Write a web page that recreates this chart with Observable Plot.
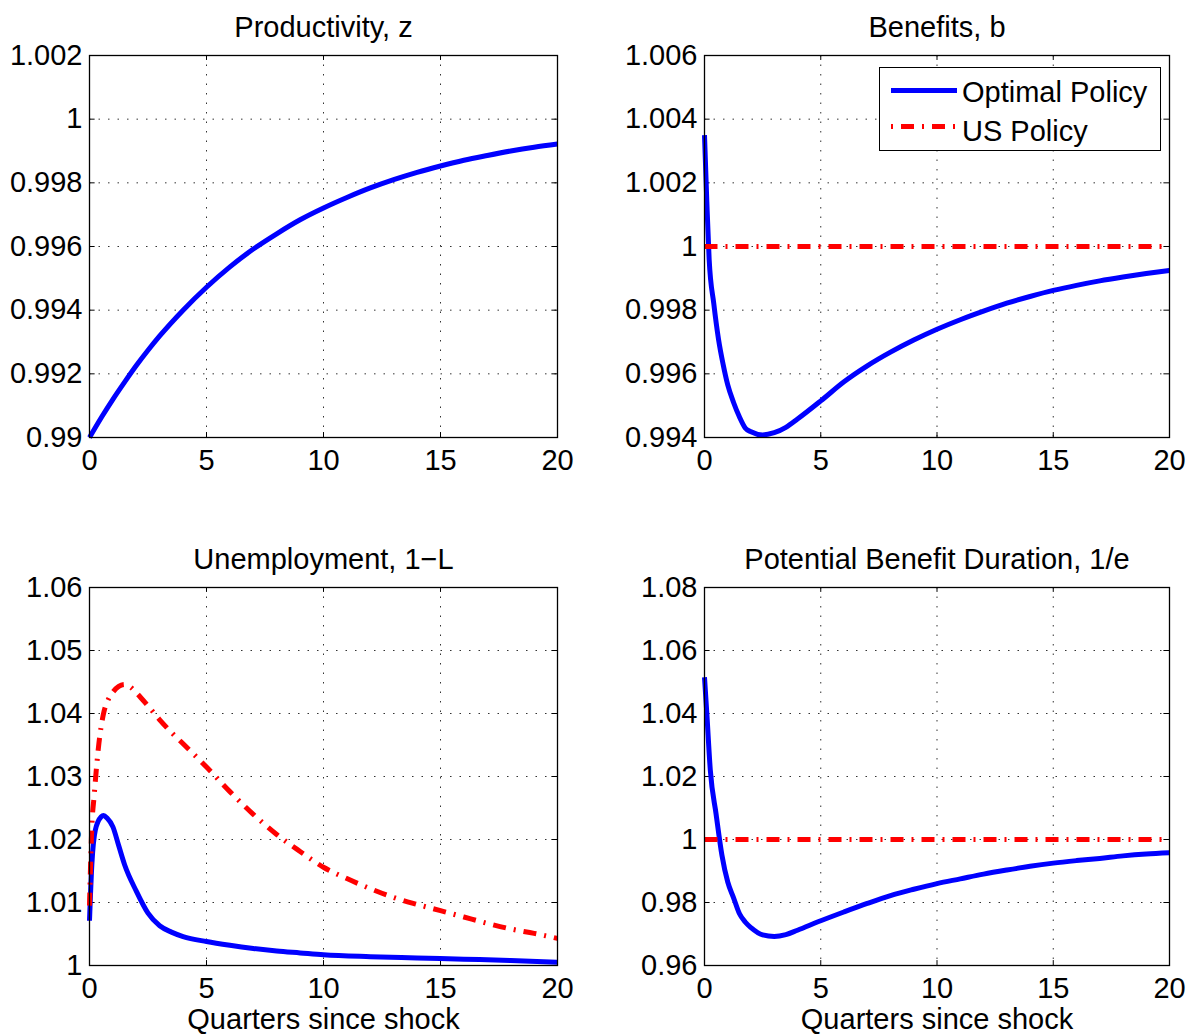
<!DOCTYPE html>
<html>
<head>
<meta charset="utf-8">
<script src="https://cdn.jsdelivr.net/npm/d3@7"></script>
<script src="https://cdn.jsdelivr.net/npm/@observablehq/plot@0.6"></script>
<style>
  html, body { margin: 0; padding: 0; background: #fff; }
  #root { position: relative; width: 1192px; height: 1035px; overflow: hidden; background: #fff; }
  .panel { position: absolute; }
  #legend { position: absolute; box-sizing: border-box; background: #fff; border: 1.5px solid #000; }
</style>
</head>
<body>
<div id="root"></div>
<script>
// ---------------- data ----------------
const xTicks = [0, 5, 10, 15, 20];

// Productivity, z (optimal policy)
const prodX = [0, 0.5, 1, 1.5, 2, 2.5, 3, 4, 5, 6, 7, 8, 9, 10, 11, 12, 13, 14, 15, 16, 17, 18, 19, 20];
const prodZ = [0.9900, 0.99062, 0.9912, 0.99174, 0.99226, 0.99274, 0.99319, 0.9940, 0.99472, 0.99536, 0.99592, 0.99640,
               0.99684, 0.99721, 0.99754, 0.99784, 0.99810, 0.99833, 0.99853, 0.99871, 0.99886, 0.99900, 0.99912, 0.99922];
const prodTicks = [0.99, 0.992, 0.994, 0.996, 0.998, 1, 1.002];

// Benefits, b
const benX = [0, 0.1, 0.2, 0.4, 0.6, 0.8, 1, 1.25, 1.5, 1.75, 2, 2.5, 3, 3.5, 4, 5, 6, 7, 8, 9, 10, 11, 12, 13, 14, 15, 16, 17, 18, 19, 20];
const benOpt = [1.0035, 1.0014, 0.9996, 0.9982, 0.9971, 0.9963, 0.99565, 0.9951, 0.99465, 0.9943, 0.99418, 0.99408, 0.99415,
                0.99432, 0.99458, 0.99515, 0.99575, 0.99625, 0.99668, 0.99706, 0.9974, 0.9977, 0.99797, 0.99822, 0.99843,
                0.99862, 0.99878, 0.99892, 0.99904, 0.99915, 0.99925];
const benUSX = [0, 20];
const benUS = [1, 1];
const benTicks = [0.994, 0.996, 0.998, 1, 1.002, 1.004, 1.006];

// Unemployment, 1-L
const unempX = [0, 0.1, 0.25, 0.5, 0.6, 0.75, 1, 1.25, 1.5, 2, 2.5, 3, 3.5, 4, 5, 6, 7, 8, 9, 10, 12, 14, 16, 18, 20];
const unempOpt = [1.0071, 1.0160, 1.0215, 1.0236, 1.0238, 1.0234, 1.0220, 1.0190, 1.0160, 1.0118, 1.0083, 1.0063,
                  1.0053, 1.0046, 1.0038, 1.0032, 1.0027, 1.0023, 1.0020, 1.0017, 1.0014, 1.0012, 1.0010, 1.0008, 1.0005];
const unempUSX = [0, 0.1, 0.2, 0.4, 0.6, 0.8, 1, 1.25, 1.5, 1.75, 2, 2.5, 3, 3.5, 4, 5, 6, 7, 8, 9, 10, 11, 12, 13, 14, 15, 16, 17, 18, 19, 20];
const unempUS = [1.0095, 1.0220, 1.0270, 1.0352, 1.0400, 1.0422, 1.0434, 1.0443, 1.0446, 1.0442, 1.0433, 1.0412,
                 1.0390, 1.0370, 1.0352, 1.0315, 1.0276, 1.0240, 1.0208, 1.0181, 1.0156, 1.0138, 1.0122, 1.0108,
                 1.0097, 1.0087, 1.0077, 1.0067, 1.0058, 1.0051, 1.0043];
const unempTicks = [1, 1.01, 1.02, 1.03, 1.04, 1.05, 1.06];

// Potential Benefit Duration, 1/e
const pbdX = [0, 0.1, 0.25, 0.5, 0.75, 1, 1.25, 1.5, 1.75, 2, 2.5, 3, 3.5, 4, 5, 6, 7, 8, 9, 10, 11, 12, 13, 14, 15, 16, 17, 18, 19, 20];
const pbdOpt = [1.0515, 1.040, 1.022, 1.008, 0.995, 0.9865, 0.9815, 0.9765, 0.9738, 0.9720, 0.9697, 0.9692,
                0.9698, 0.9712, 0.9742, 0.9770, 0.9797, 0.9822, 0.9842, 0.9860, 0.9875, 0.9890, 0.9903, 0.9915,
                0.9925, 0.9933, 0.9940, 0.9948, 0.9954, 0.9958];
const pbdUSX = [0, 20];
const pbdUS = [1, 1];
const pbdTicks = [0.96, 0.98, 1, 1.02, 1.04, 1.06, 1.08];

const titles = ["Productivity, z", "Benefits, b", "Unemployment, 1\u2212L", "Potential Benefit Duration, 1/e"];
const xLabel = "Quarters since shock";
const legendLabels = ["Optimal Policy", "US Policy"];

// ---------------- styling ----------------
const FONT = "'Liberation Sans', Arial, Helvetica, sans-serif";
const FS = 29;
const BLUE = "#0000ff";
const RED = "#ff0000";
const DASHDOT = "13,8,2,8";
const GRID = { stroke: "#000", strokeOpacity: 0.8, strokeWidth: 1, strokeDasharray: "1.5,8" };
const fmt = d3.format("~g");

const zip = (xs, ys) => xs.map((x, i) => ({ x, y: ys[i] }));

function panel({ title, yTicks, opt, us, xlabel, left, top, width, height, margins }) {
  const yDom = [yTicks[0], yTicks[yTicks.length - 1]];
  const ty = (yDom[1] - yDom[0]) * 0.013;
  const tx = 20 * 0.012;
  const marks = [
    Plot.gridX(xTicks, GRID),
    Plot.gridY(yTicks, GRID),
    Plot.ruleX(xTicks, { x: d => d, y1: yDom[0], y2: yDom[0] + ty, stroke: "#000", strokeWidth: 1 }),
    Plot.ruleX(xTicks, { x: d => d, y1: yDom[1], y2: yDom[1] - ty, stroke: "#000", strokeWidth: 1 }),
    Plot.ruleY(yTicks, { y: d => d, x1: 0, x2: tx, stroke: "#000", strokeWidth: 1 }),
    Plot.ruleY(yTicks, { y: d => d, x1: 20, x2: 20 - tx, stroke: "#000", strokeWidth: 1 }),
    Plot.axisX(xTicks, { tickSize: 0, tickPadding: 12, tickFormat: fmt, label: null, fontSize: FS }),
    Plot.axisY(yTicks, { tickSize: 0, tickPadding: 7, tickFormat: fmt, label: null, fontSize: FS }),
    Plot.line(opt, { x: "x", y: "y", curve: "monotone-x", stroke: BLUE, strokeWidth: 5, strokeLinejoin: "round", strokeLinecap: "butt" })
  ];
  if (us) marks.push(Plot.line(us, { x: "x", y: "y", curve: "monotone-x", stroke: RED, strokeWidth: 5, strokeDasharray: DASHDOT, strokeLinecap: "butt" }));
  marks.push(Plot.frame({ stroke: "#000", strokeWidth: 1.3 }));
  marks.push(Plot.text([title], { text: d => d, frameAnchor: "top", lineAnchor: "bottom", dy: -19, fontSize: FS }));
  if (xlabel) marks.push(Plot.text([xlabel], { text: d => d, frameAnchor: "bottom", lineAnchor: "bottom", dy: 63, fontSize: FS }));

  const chart = Plot.plot({
    width, height,
    marginTop: margins[0], marginRight: margins[1], marginBottom: margins[2], marginLeft: margins[3],
    style: { fontFamily: FONT, fontSize: FS + "px", color: "#000", background: "transparent", overflow: "visible" },
    x: { domain: [0, 20] },
    y: { domain: yDom },
    marks
  });
  const div = document.createElement("div");
  div.className = "panel";
  div.style.left = left + "px";
  div.style.top = top + "px";
  div.appendChild(chart);
  document.getElementById("root").appendChild(div);
}

panel({ title: titles[0], yTicks: prodTicks, opt: zip(prodX, prodZ), us: null, xlabel: null,
        left: 0, top: 0, width: 596, height: 517, margins: [55, 39, 80, 89] });
panel({ title: titles[1], yTicks: benTicks, opt: zip(benX, benOpt), us: zip(benUSX, benUS), xlabel: null,
        left: 596, top: 0, width: 596, height: 517, margins: [55, 23, 80, 108] });
panel({ title: titles[2], yTicks: unempTicks, opt: zip(unempX, unempOpt), us: zip(unempUSX, unempUS), xlabel: xLabel,
        left: 0, top: 517, width: 596, height: 518, margins: [70, 39, 70, 89] });
panel({ title: titles[3], yTicks: pbdTicks, opt: zip(pbdX, pbdOpt), us: zip(pbdUSX, pbdUS), xlabel: xLabel,
        left: 596, top: 517, width: 596, height: 518, margins: [70, 23, 70, 108] });

// ---------------- legend (in the Benefits panel) ----------------
(function legend() {
  const W = 282, H = 84;
  const div = document.createElement("div");
  div.id = "legend";
  div.style.left = "879px";
  div.style.top = "67px";
  div.style.width = W + "px";
  div.style.height = H + "px";
  const ns = "http://www.w3.org/2000/svg";
  const svg = document.createElementNS(ns, "svg");
  svg.setAttribute("width", W - 3);
  svg.setAttribute("height", H - 3);
  svg.style.display = "block";
  const items = [
    { label: legendLabels[0], stroke: BLUE, dash: null, y: 22.5, ty: 33.5 },
    { label: legendLabels[1], stroke: RED, dash: DASHDOT, y: 58.5, ty: 72.5 }
  ];
  for (const it of items) {
    const ln = document.createElementNS(ns, "line");
    ln.setAttribute("x1", 11); ln.setAttribute("x2", 77);
    ln.setAttribute("y1", it.y); ln.setAttribute("y2", it.y);
    ln.setAttribute("stroke", it.stroke);
    ln.setAttribute("stroke-width", 5);
    if (it.dash) { ln.setAttribute("stroke-dasharray", "2,8,13,8"); }
    svg.appendChild(ln);
    const t = document.createElementNS(ns, "text");
    t.setAttribute("x", 82);
    t.setAttribute("y", it.ty);
    t.setAttribute("font-family", FONT);
    t.setAttribute("font-size", FS);
    t.textContent = it.label;
    svg.appendChild(t);
  }
  div.appendChild(svg);
  document.getElementById("root").appendChild(div);
})();
</script>
</body>
</html>
